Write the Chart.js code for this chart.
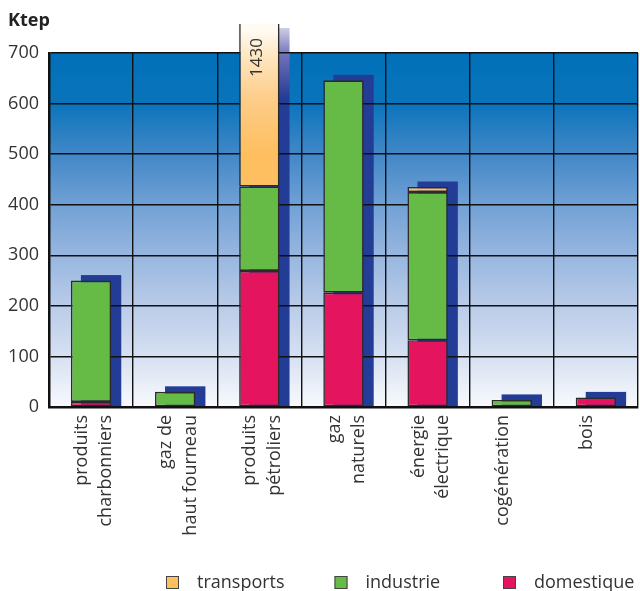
<!DOCTYPE html>
<html lang="fr">
<head>
<meta charset="UTF-8">
<title>Consommation finale par vecteur</title>
<script src="https://cdn.jsdelivr.net/npm/chart.js"></script>
<style>
  html, body { margin: 0; padding: 0; background: #fff; }
  #chart { display: block; }
</style>
</head>
<body>
<canvas id="chart" width="640" height="591"></canvas>
<script>
// values, in Ktep
const categories = [
  ['produits', 'charbonniers'],
  ['gaz de', 'haut fourneau'],
  ['produits', 'pétroliers'],
  ['gaz', 'naturels'],
  ['énergie', 'électrique'],
  'cogénération',
  'bois'
];
const domestique = [10, null, 269, 226, 132, null, 19];
const industrie  = [240, 30, 167, 420, 293, 14, null];
const transports = [null, null, 994, null, 10, null, null];
const yTicks = [0, 100, 200, 300, 400, 500, 600, 700];
const unit = 'Ktep';

const colors = { domestique: '#e4145f', industrie: '#66bb46', transports: '#fdbf5f' };
const shadowColor = '#233c96';
const textColor = '#333';
const fontFamily = '"Open Sans", "DejaVu Sans", sans-serif';

function stackTotal(chart, i) {
  return chart.data.datasets.reduce((s, ds) => s + (ds.data[i] || 0), 0);
}

// bars that run off the top of the axis fade out
function transportFill(ctx) {
  const chart = ctx.chart, a = chart.chartArea;
  if (!a || ctx.type !== 'data') return colors.transports;
  if (stackTotal(chart, ctx.dataIndex) <= yTicks[yTicks.length - 1]) return colors.transports;
  const g = chart.ctx.createLinearGradient(0, a.top - 22, 0, a.top + 100);
  g.addColorStop(0, '#fffaf2');
  g.addColorStop(0.22, '#fee5bd');
  g.addColorStop(0.55, '#fdcd8a');
  g.addColorStop(1, colors.transports);
  return g;
}

// plot gradient + the blue depth block behind each stack
const backdrop = {
  id: 'backdrop',
  beforeDraw(chart) {
    const { ctx, chartArea: a, scales } = chart;
    const g = ctx.createLinearGradient(0, a.top, 0, a.bottom);
    g.addColorStop(0, '#0070b8');
    g.addColorStop(0.14, '#0a74bb');
    g.addColorStop(0.29, '#4388c8');
    g.addColorStop(0.43, '#71a1d5');
    g.addColorStop(0.57, '#97b6df');
    g.addColorStop(0.71, '#b8cbe8');
    g.addColorStop(0.86, '#d7e1f2');
    g.addColorStop(1, '#f8fafd');
    ctx.save();
    ctx.fillStyle = g;
    ctx.fillRect(a.left, a.top, a.right - a.left, a.bottom - a.top);

    const base = scales.y.getPixelForValue(0);
    const clipTop = a.top - 25;
    categories.forEach((c, i) => {
      let el = null;
      chart.data.datasets.forEach((ds, d) => {
        const v = ds.data[i];
        if (v == null || v <= 0) return;
        const bar = chart.getDatasetMeta(d).data[i];
        if (!el || bar.y < el.y) el = bar;
      });
      if (!el) return;
      let top = el.y - 5.5;
      if (top < clipTop) {
        top = clipTop;
        const sg = ctx.createLinearGradient(0, clipTop, 0, clipTop + 70);
        sg.addColorStop(0, '#cdcde8');
        sg.addColorStop(0.4, '#6f6fb8');
        sg.addColorStop(1, shadowColor);
        ctx.fillStyle = sg;
      } else {
        ctx.fillStyle = shadowColor;
      }
      ctx.fillRect(el.x - el.width / 2 + 10, top, el.width, base - top);
    });
    ctx.restore();
  }
};

// unit label, totals of broken bars, legend
const extras = {
  id: 'extras',
  afterDraw(chart) {
    const { ctx, chartArea: a, scales } = chart;
    ctx.save();
    ctx.fillStyle = '#222';
    ctx.font = 'bold 18px ' + fontFamily;
    ctx.textBaseline = 'alphabetic';
    ctx.fillText(unit, 8, 26);

    const yMax = scales.y.max;
    ctx.font = '17px ' + fontFamily;
    ctx.fillStyle = textColor;
    categories.forEach((c, i) => {
      const total = stackTotal(chart, i);
      if (total <= yMax) return;
      ctx.save();
      ctx.translate(scales.x.getPixelForValue(i) - 2, a.top - 15);
      ctx.rotate(-Math.PI / 2);
      ctx.textAlign = 'right';
      ctx.textBaseline = 'middle';
      ctx.fillText(String(total), 0, 0);
      ctx.restore();
    });

    const items = chart.data.datasets.slice().reverse();
    ctx.font = '18px ' + fontFamily;
    ctx.textAlign = 'left';
    items.forEach((ds, k) => {
      const x = 166 + k * 168.5;
      ctx.fillStyle = colors[ds.label];
      ctx.fillRect(x, 576, 13, 13);
      ctx.strokeStyle = '#444';
      ctx.lineWidth = 1;
      ctx.strokeRect(x + 0.5, 576.5, 12, 12);
      ctx.fillStyle = textColor;
      ctx.fillText(ds.label, x + 31, 588);
    });
    ctx.restore();
  }
};

const gridStyle = { color: '#111', lineWidth: 1.4, drawTicks: false };
const borderStyle = { color: '#111', width: 2.5 };

new Chart(document.getElementById('chart'), {
  type: 'bar',
  data: {
    labels: categories,
    datasets: [
      { label: 'domestique', data: domestique, backgroundColor: colors.domestique },
      { label: 'industrie', data: industrie, backgroundColor: colors.industrie },
      { label: 'transports', data: transports, backgroundColor: transportFill }
    ]
  },
  options: {
    responsive: false,
    animation: false,
    events: [],
    layout: { padding: { left: 7, top: 53, right: 2, bottom: 0 } },
    datasets: {
      bar: {
        borderColor: '#2b2b2b',
        borderWidth: 1.6,
        borderSkipped: false,
        barPercentage: 0.48,
        categoryPercentage: 1,
        clip: { left: 4, top: 29, right: 4, bottom: 4 }
      }
    },
    plugins: { legend: { display: false }, tooltip: { enabled: false } },
    scales: {
      x: {
        stacked: true,
        grid: Object.assign({ offset: true }, gridStyle),
        border: borderStyle,
        ticks: {
          color: textColor,
          font: { family: fontFamily, size: 18, lineHeight: 1.35 },
          minRotation: 90, maxRotation: 90,
          autoSkip: false,
          padding: 8,
          labelOffset: -9
        },
        afterFit: s => { s.height = 184; }
      },
      y: {
        stacked: true,
        min: yTicks[0],
        max: yTicks[yTicks.length - 1],
        grid: gridStyle,
        border: borderStyle,
        ticks: { color: textColor, font: { family: fontFamily, size: 18 }, padding: 10 },
        afterBuildTicks: s => { s.ticks = yTicks.map(v => ({ value: v })); },
        afterFit: s => { s.width = 42; }
      }
    }
  },
  plugins: [backdrop, extras]
});
</script>
</body>
</html>
